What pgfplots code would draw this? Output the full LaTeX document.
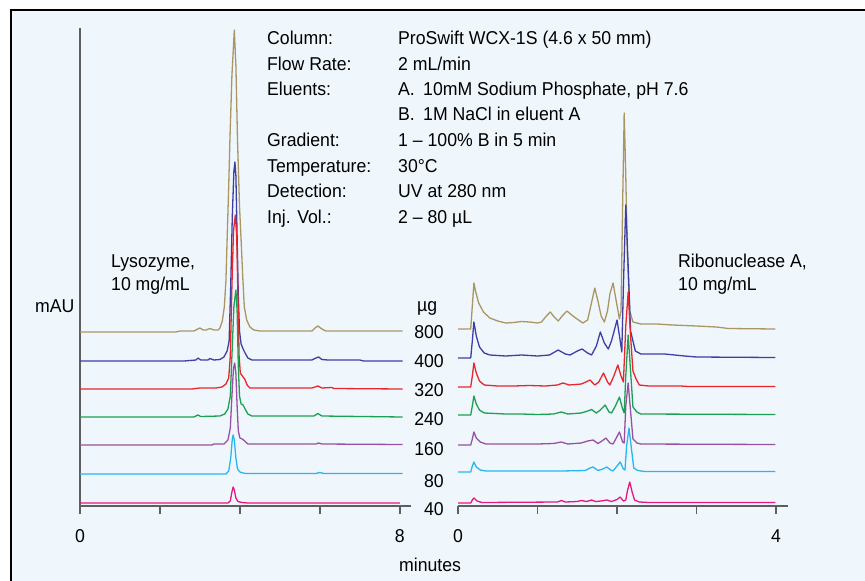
\documentclass[border=0pt]{standalone}
\usepackage{pgfplots}
\pgfplotsset{compat=1.18}
\usepackage{fontspec}
\setmainfont{Liberation Sans}[FakeStretch=0.95]
\definecolor{bgblue}{RGB}{239,247,253}
\definecolor{axisgray}{RGB}{95,95,95}
\definecolor{cgold}{RGB}{170,150,98}
\definecolor{cblue}{RGB}{62,62,165}
\definecolor{cred}{RGB}{232,38,44}
\definecolor{cgreen}{RGB}{30,160,82}
\definecolor{cpurple}{RGB}{152,80,162}
\definecolor{ccyan}{RGB}{40,182,240}
\definecolor{cmag}{RGB}{230,22,130}
\newcommand\lbl{\fontsize{18.6}{22}\selectfont}
\pgfplotsset{
  chrom/.style={
    scale only axis, height=478pt, ymin=0, ymax=478, clip=false,
    ytick=\empty,
    axis line style={draw=axisgray, line width=1.6pt},
    tick align=outside, major tick length=8pt,
    xtick style={draw=axisgray, line width=1.6pt},
    xticklabel style={font=\lbl, text=black, yshift=-12pt},
    every axis plot/.append style={line width=1.3pt, line join=round},
  }
}
\begin{document}
\begin{tikzpicture}[x=1pt,y=1pt]
\useasboundingbox (0,0) rectangle (865,-581);
\fill[white] (0,0) rectangle (865,-581);
\fill[bgblue] (11,-10) rectangle (865,-581);
\draw[black, line width=2.4pt] (11,-581) -- (11,-10) -- (865,-10);

% ---------------- left panel: Lysozyme ----------------
\begin{axis}[chrom, at={(80pt,-506pt)}, anchor=south west,
  width=331pt, xmin=0, xmax=8.28,
  axis lines*=left,
  xtick={0,2,4,6,8}, xticklabels={0,,,,8}]
\addplot[cgold] coordinates {(0,174) (1.5,174) (2.4,174) (2.5,175) (2.85,175) (2.95,177) (3.0,178) (3.08,176) (3.15,176) (3.25,177.5) (3.35,176) (3.45,176) (3.50,178) (3.56,185) (3.61,199) (3.65,225) (3.68,266) (3.72,320) (3.75,366) (3.80,430) (3.86,476) (3.90,440) (3.94,366) (3.99,300) (4.03,266) (4.07,230) (4.11,199) (4.17,186) (4.25,179) (4.35,176) (4.5,175) (5.8,175) (5.88,178) (5.95,180) (6.05,177) (6.15,175) (7,175) (8.07,175)};
\addplot[cblue] coordinates {(0,145) (2.6,145) (2.9,146) (2.95,148) (3.02,146) (3.2,146) (3.25,147.5) (3.35,146) (3.5,146.5) (3.6,149) (3.68,155) (3.73,165) (3.77,220) (3.81,290) (3.85,335) (3.875,344) (3.90,330) (3.93,270) (3.96,210) (3.99,175) (4.03,162) (4.08,157) (4.13,153) (4.2,148) (4.3,146) (5.8,146) (5.9,148) (5.97,149) (6.05,146.5) (6.2,146) (7.0,146) (7.1,145) (8.07,145)};
\addplot[cred] coordinates {(0,117) (2.8,117) (3.0,118) (3.4,118) (3.55,119) (3.65,122) (3.72,128) (3.76,150) (3.80,220) (3.84,275) (3.885,291) (3.92,270) (3.95,210) (3.98,150) (4.01,133) (4.06,130) (4.12,127) (4.18,121) (4.25,118) (5.8,118) (5.95,120) (6.05,118) (6.3,118.5) (6.35,117.5) (8.07,117)};
\addplot[cgreen] coordinates {(0,89) (2.85,89) (2.95,91) (3.02,89.5) (3.5,90) (3.62,92) (3.7,97) (3.76,110) (3.80,150) (3.85,200) (3.90,216) (3.93,195) (3.96,140) (3.99,110) (4.03,102) (4.08,101) (4.13,97) (4.2,92) (4.3,90) (5.85,90) (5.95,92.5) (6.05,90) (8.07,89)};
\addplot[cpurple] coordinates {(0,61) (3.3,61) (3.35,62) (3.6,62) (3.7,66) (3.76,78) (3.80,110) (3.84,138) (3.87,143) (3.90,132) (3.93,100) (3.96,75) (4.0,68) (4.06,67) (4.12,65) (4.2,62) (5.9,62) (5.97,63) (6.05,62) (8.07,61.5)};
\addplot[ccyan] coordinates {(0,32) (3.65,32) (3.72,35) (3.77,48) (3.81,67) (3.83,71) (3.86,66) (3.9,48) (3.94,37) (4.0,34) (4.08,33) (4.15,32.5) (5.9,32.5) (6.0,33.5) (6.1,32.5) (8.07,32.5)};
\addplot[cmag] coordinates {(0,3) (3.7,3) (3.76,5) (3.80,14) (3.83,19) (3.86,16) (3.9,8) (3.95,4.5) (4.05,3.5) (4.2,3) (8.0,3)};
\end{axis}

% ---------------- right panel: Ribonuclease A ----------------
\begin{axis}[chrom, at={(458pt,-506pt)}, anchor=south west,
  width=330pt, xmin=0, xmax=4.15,
  axis x line*=bottom, axis y line=none,
  xtick={0,1,2,3,4}, xticklabels={0,,,,4}]
\addplot[cgold] coordinates {(0,177) (0.16,177) (0.18,200) (0.2,223) (0.22,215) (0.26,203) (0.32,194) (0.4,188) (0.5,185) (0.6,183) (0.7,183.5) (0.8,184.5) (0.9,184) (1.0,183) (1.05,184) (1.10,189) (1.16,194) (1.21,189) (1.26,185) (1.31,190) (1.37,195) (1.43,191) (1.48,188) (1.57,183) (1.63,186) (1.67,200) (1.72,218) (1.76,205) (1.80,190) (1.84,184) (1.88,195) (1.91,212) (1.95,223) (1.99,205) (2.03,187) (2.05,195) (2.07,300) (2.09,393) (2.11,330) (2.13,250) (2.16,195) (2.2,184) (2.3,182) (2.5,182) (2.7,181) (3.0,180) (3.25,179) (3.4,177.5) (3.99,177)};
\addplot[cblue] coordinates {(0,148) (0.16,148) (0.18,165) (0.2,184) (0.23,170) (0.27,159) (0.33,153) (0.4,151) (0.6,150) (0.8,151) (1.0,150) (1.15,151) (1.26,156) (1.35,152) (1.41,151) (1.5,155) (1.56,157) (1.63,153) (1.68,151) (1.74,160) (1.79,174) (1.84,163) (1.89,157) (1.93,165) (2.0,186) (2.04,165) (2.06,154) (2.08,220) (2.11,301) (2.14,240) (2.17,175) (2.23,155) (2.3,152) (2.6,152) (2.85,150) (3.0,149) (3.99,148.5)};
\addplot[cred] coordinates {(0,119) (0.16,119) (0.18,130) (0.2,143) (0.23,133) (0.27,125) (0.33,121) (0.5,120) (0.7,120) (0.9,120.5) (1.1,120) (1.25,121) (1.32,123) (1.4,121) (1.55,122) (1.61,124) (1.66,126) (1.72,121) (1.77,124) (1.83,133) (1.88,124) (1.91,121) (1.96,130) (2.01,141) (2.05,130) (2.08,124) (2.11,180) (2.14,214) (2.17,170) (2.2,135) (2.24,127) (2.28,121) (2.4,120) (2.8,120) (2.9,119.5) (3.99,119.5)};
\addplot[cgreen] coordinates {(0,91) (0.16,91) (0.18,100) (0.2,110) (0.23,102) (0.27,96) (0.33,93) (0.6,92) (0.8,92) (1.0,91.5) (1.2,92) (1.3,94) (1.38,92) (1.55,93) (1.63,95) (1.68,96.5) (1.74,93) (1.79,96) (1.85,101) (1.9,94) (1.93,93) (1.98,100) (2.03,109) (2.07,97) (2.09,93) (2.11,130) (2.14,171) (2.17,135) (2.2,99) (2.25,94) (2.3,92) (3.99,91.5)};
\addplot[cpurple] coordinates {(0,61) (0.16,61) (0.18,67) (0.2,74) (0.23,68) (0.28,64) (0.35,62) (1.0,62) (1.2,62.5) (1.3,64) (1.38,62) (1.55,63) (1.63,65) (1.7,66) (1.76,62.5) (1.81,65) (1.86,68) (1.91,63) (1.95,62) (1.99,68) (2.03,74) (2.07,64) (2.09,63) (2.11,100) (2.14,123) (2.17,95) (2.2,67) (2.25,63) (2.3,62) (3.99,61.5)};
\addplot[ccyan] coordinates {(0,34) (0.16,34) (0.18,40) (0.2,44) (0.23,39) (0.28,36) (0.35,35) (1.3,35) (1.6,35.5) (1.66,38) (1.70,39) (1.76,35.5) (1.82,37) (1.87,39) (1.92,36) (1.95,35) (2.0,40) (2.04,44) (2.08,37) (2.1,36) (2.12,60) (2.15,78) (2.18,58) (2.21,38) (2.26,35.5) (2.35,34.5) (3.99,34.5)};
\addplot[cmag] coordinates {(0,3) (0.16,3) (0.18,6) (0.2,8) (0.24,5) (0.3,3.5) (1.25,4) (1.3,5.5) (1.35,4) (1.5,4.5) (1.55,5.5) (1.62,4.5) (1.68,6) (1.73,4.5) (1.8,5) (1.87,6) (1.93,4.5) (2.0,6.5) (2.04,9) (2.08,5) (2.11,6) (2.13,15) (2.16,24) (2.19,14) (2.22,6) (2.28,4) (2.4,3.5) (3.99,3.5)};
\end{axis}

% ---------------- text ----------------
\begin{scope}[every node/.style={font=\lbl, inner sep=0pt}]
\node[anchor=base west] at (267,-44) {Column:};
\node[anchor=base west] at (267,-70) {Flow Rate:};
\node[anchor=base west] at (267,-95) {Eluents:};
\node[anchor=base west] at (267,-146) {Gradient:};
\node[anchor=base west] at (267,-172) {Temperature:};
\node[anchor=base west] at (267,-197) {Detection:};
\node[anchor=base west] at (267,-223) {Inj. Vol.:};
\node[anchor=base west] at (398,-44) {ProSwift WCX-1S (4.6 x 50 mm)};
\node[anchor=base west] at (398,-70) {2 mL/min};
\node[anchor=base west] at (398,-95) {A.};
\node[anchor=base west] at (423,-95) {10mM Sodium Phosphate, pH 7.6};
\node[anchor=base west] at (398,-120) {B.};
\node[anchor=base west] at (423,-120) {1M NaCl in eluent A};
\node[anchor=base west] at (398,-146) {1 -- 100\% B in 5 min};
\node[anchor=base west] at (398,-172) {30°C};
\node[anchor=base west] at (398,-197) {UV at 280 nm};
\node[anchor=base west] at (398,-223) {2 -- 80 µL};
\node[anchor=base west] at (111,-267) {Lysozyme,};
\node[anchor=base west] at (111,-290) {10 mg/mL};
\node[anchor=base west] at (678,-267) {Ribonuclease A,};
\node[anchor=base west] at (678,-290) {10 mg/mL};
\node[anchor=base west] at (35,-312) {mAU};
\node[anchor=base west] at (417,-311) {µg};
\node[anchor=base east] at (444,-338) {800};
\node[anchor=base east] at (444,-367) {400};
\node[anchor=base east] at (444,-396) {320};
\node[anchor=base east] at (444,-425) {240};
\node[anchor=base east] at (444,-455) {160};
\node[anchor=base east] at (444,-487) {80};
\node[anchor=base east] at (444,-515) {40};
\node[anchor=base west] at (399,-571) {minutes};
\end{scope}
\end{tikzpicture}
\end{document}
